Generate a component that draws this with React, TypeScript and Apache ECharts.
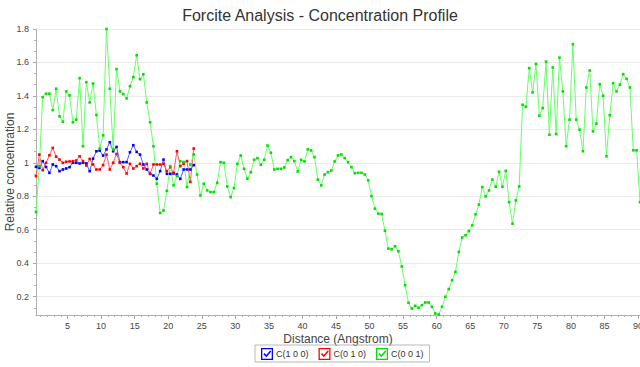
import React, { useEffect, useRef } from "react";
import * as echarts from "echarts";

// Sample positions along the distance axis (Angstrom)
const distanceStart = 0.3;
const distanceStep = 0.5;

const seriesNames = ["C(1 0 0)", "C(0 1 0)", "C(0 0 1)"];

const c100 = [
  0.976, 0.970, 1.010, 0.975, 0.940, 0.990, 0.980, 0.950, 0.960, 0.966,
  0.974, 1.000, 1.000, 0.996, 1.000, 0.996, 0.950, 1.025, 1.069, 1.073,
  1.043, 1.080, 1.123, 1.069, 1.095, 1.004, 1.004, 1.004, 1.063, 1.105,
  1.065, 1.049, 0.990, 0.960, 0.934, 0.924, 0.904, 0.950, 1.019, 0.934,
  0.934, 0.936, 0.930, 0.904, 0.960, 0.960, 0.960, 0.986,
];

const c010 = [
  0.920, 1.049, 0.956, 1.000, 1.045, 1.089, 1.037, 1.019, 1.000, 1.006,
  1.008, 1.010, 1.014, 1.039, 1.010, 0.984, 1.023, 0.990, 0.960, 0.960,
  0.986, 1.049, 0.960, 1.000, 1.053, 1.000, 0.974, 0.936, 0.994, 0.966,
  0.980, 0.994, 0.966, 0.994, 0.934, 0.990, 0.990, 0.990, 0.994, 0.950,
  0.974, 0.940, 1.069, 0.980, 0.995, 1.010, 0.886, 1.085,
];

const c001 = [
  0.706, 0.98, 1.393, 1.413, 1.413, 1.315, 1.443, 1.278, 1.246, 1.427,
  1.403, 1.242, 1.258, 1.506, 1.099, 1.482, 1.361, 1.474, 1.286, 1.085,
  1.164, 1.8, 1.443, 1.08, 1.56, 1.427, 1.411, 1.385, 1.458, 1.512,
  1.643, 1.5, 1.53, 1.361, 1.242, 1.099, 0.875, 0.7, 0.715, 0.833,
  0.98, 0.865, 0.92, 1.01, 1.005, 0.855, 0.99, 1.05, 0.93, 0.805,
  0.875, 0.835, 0.825, 0.825, 0.881, 1.004, 1.0, 0.859, 0.795, 0.849,
  0.994, 1.044, 0.964, 0.905, 0.944, 1.018, 1.028, 0.988, 1.018, 1.103,
  1.06, 0.96, 0.964, 0.964, 0.972, 1.016, 1.034, 1.01, 0.948, 1.018,
  1.008, 1.08, 1.074, 1.034, 0.899, 0.865, 0.93, 0.944, 0.954, 1.008,
  1.044, 1.05, 1.028, 1.004, 0.974, 0.938, 0.94, 0.94, 0.93, 0.895,
  0.801, 0.726, 0.696, 0.694, 0.594, 0.487, 0.483, 0.501, 0.471, 0.38,
  0.268, 0.163, 0.129, 0.145, 0.133, 0.149, 0.165, 0.165, 0.139, 0.099,
  0.093, 0.139, 0.199, 0.245, 0.298, 0.348, 0.467, 0.553, 0.567, 0.592,
  0.626, 0.692, 0.75, 0.855, 0.799, 0.835, 0.9, 0.857, 0.946, 0.857,
  0.952, 0.765, 0.636, 0.775, 0.859, 1.347, 1.335, 1.566, 1.421, 1.591,
  1.282, 1.327, 1.605, 1.168, 1.57, 1.172, 1.629, 1.427, 1.099, 1.258,
  1.709, 1.258, 1.198, 1.069, 1.45, 1.552, 1.188, 1.234, 1.47, 1.401,
  1.039, 1.284, 1.476, 1.427, 1.467, 1.53, 1.502, 1.45, 1.075, 1.075,
  0.765,
];

const xTickLabels = [5, 10, 15, 20, 25, 30, 35, 40, 45, 50, 55, 60, 65, 70, 75, 80, 85, 90];
const yTickLabels = [0.2, 0.4, 0.6, 0.8, 1.0, 1.2, 1.4, 1.6, 1.8];

const xMin = 0.3;
const xMax = 90.3;
const yMin = 0.09;
const yMax = 1.8;

const lineColors = ["#5a5aff", "#ff5a5a", "#66ff66"];
const dotColors = ["#0000ff", "#ff0000", "#00e000"];

const checkboxIcon =
  "path://M0 0H12V12H0Z M1.3 1.3V10.7H10.7V1.3Z M2.4 6.3L3.6 5.1L5.3 6.9L9.1 2.5L10.3 3.6L5.3 9.3Z";

const FONT = "Liberation Sans, Arial, sans-serif";

export default function App() {
  const ref = useRef<HTMLDivElement>(null);

  useEffect(() => {
    if (!ref.current) return;
    const chart = echarts.init(ref.current, null, { renderer: "svg" });

    const toPairs = (arr: number[]) =>
      arr.map((v, i) => [distanceStart + i * distanceStep, v]);

    const xMinor: number[] = [];
    for (let k = 1; k <= 90; k++) xMinor.push(k);
    const yMinor: number[] = [];
    for (let k = 0; k <= 25; k++) {
      const v = 0.2 - 0.2 / 3 + (k * 0.2) / 3;
      if (v <= 1.8001) yMinor.push(Number(v.toFixed(4)));
    }

    const allData = [c100, c010, c001];

    chart.setOption({
      animation: false,
      backgroundColor: "#ffffff",
      title: {
        text: "Forcite Analysis - Concentration Profile",
        left: "center",
        top: 2,
        textStyle: { fontFamily: FONT, fontSize: 16, fontWeight: "normal", color: "#333333" },
      },
      legend: {
        left: 255,
        top: 345,
        orient: "horizontal",
        padding: [3, 6, 2, 6],
        itemGap: 10,
        itemWidth: 12,
        itemHeight: 12,
        borderColor: "#b8b8b8",
        borderWidth: 1,
        icon: checkboxIcon,
        textStyle: { fontFamily: FONT, fontSize: 9, color: "#333333", padding: [0, 0, 0, -2] },
        data: seriesNames,
      },
      grid: {
        left: 36,
        right: 0,
        top: 29,
        bottom: 52,
        containLabel: false,
        outerBoundsMode: "none",
      },
      xAxis: [
        {
          type: "value",
          min: xMin,
          max: xMax,
          name: "Distance (Angstrom)",
          nameLocation: "middle",
          nameGap: 18,
          nameMoveOverlap: false,
          nameTextStyle: { fontFamily: FONT, fontSize: 12, color: "#444444" },
          axisLine: { show: true, lineStyle: { color: "#b0b0b0" } },
          axisTick: { show: true, length: 4, customValues: xTickLabels, lineStyle: { color: "#a0a0a0" } },
          axisLabel: {
            customValues: xTickLabels,
            fontFamily: FONT,
            fontSize: 9,
            color: "#444444",
            margin: 6,
          },
          splitLine: { show: false },
        },
        {
          type: "value",
          min: xMin,
          max: xMax,
          position: "bottom",
          axisLine: { show: false },
          axisTick: { show: true, length: 2, customValues: xMinor, lineStyle: { color: "#b0b0b0" } },
          axisLabel: { show: false },
          splitLine: { show: false },
        },
      ],
      yAxis: [
        {
          type: "value",
          min: yMin,
          max: yMax,
          name: "Relative concentration",
          nameLocation: "middle",
          nameGap: 20,
          nameMoveOverlap: false,
          nameTextStyle: { fontFamily: FONT, fontSize: 12, color: "#444444" },
          axisLine: { show: true, lineStyle: { color: "#b0b0b0" } },
          axisTick: { show: true, length: 3, customValues: yTickLabels, lineStyle: { color: "#a0a0a0" } },
          axisLabel: {
            customValues: yTickLabels,
            fontFamily: FONT,
            fontSize: 9,
            color: "#444444",
            margin: 7,
            formatter: (v: number) => String(Number(v.toFixed(1))),
          },
          splitLine: { show: true, lineStyle: { color: "#ebebeb", width: 1 } },
        },
        {
          type: "value",
          min: yMin,
          max: yMax,
          position: "left",
          axisLine: { show: false },
          axisTick: { show: true, length: 2, customValues: yMinor, lineStyle: { color: "#b0b0b0" } },
          axisLabel: { show: false },
          splitLine: { show: false },
        },
      ],
      series: seriesNames.map((name, s) => ({
        name,
        type: "line",
        xAxisIndex: 0,
        yAxisIndex: 0,
        data: toPairs(allData[s]),
        symbol: "rect",
        symbolSize: 2.6,
        showSymbol: true,
        clip: true,
        lineStyle: { color: lineColors[s], width: 1 },
        itemStyle: { color: dotColors[s] },
        emphasis: { disabled: true },
      })),
    });

    return () => chart.dispose();
  }, []);

  return (
    <div
      ref={ref}
      style={{ position: "fixed", left: 0, top: 0, width: 640, height: 367, background: "#fff" }}
    />
  );
}
